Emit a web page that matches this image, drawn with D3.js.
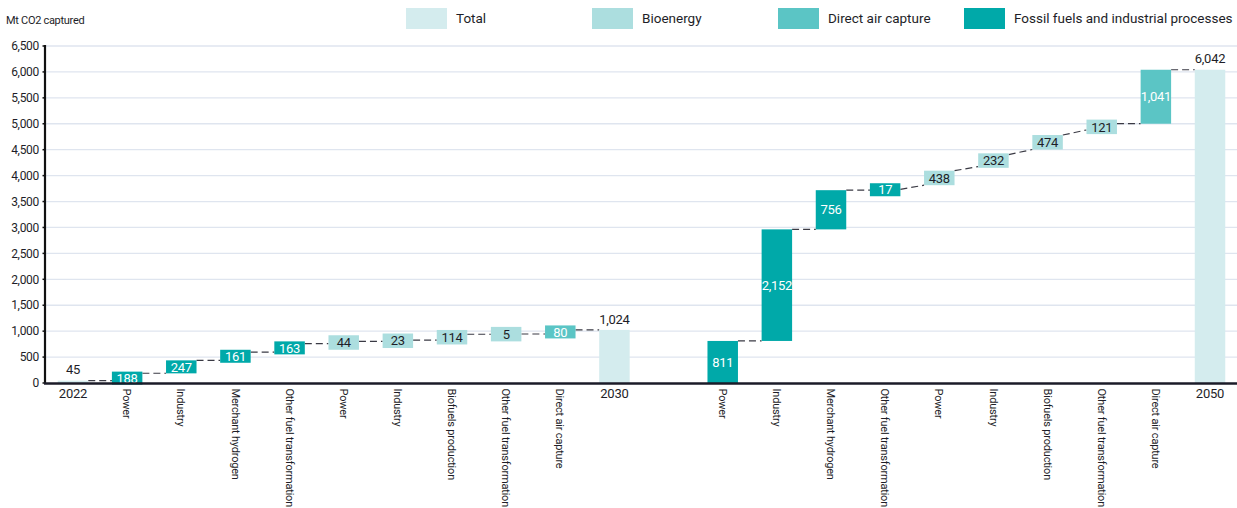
<!DOCTYPE html>
<html>
<head>
<meta charset="utf-8">
<script src="https://cdn.jsdelivr.net/npm/d3@7"></script>
<style>
  html, body { margin: 0; padding: 0; background: #fff; }
  svg { display: block; font-family: Roboto, "Liberation Sans", sans-serif; }
</style>
</head>
<body>
<svg id="chart" width="1237" height="508"></svg>
<script>
// ---- Data ----
const categories = ["2022","Power","Industry","Merchant hydrogen","Other fuel transformation","Power","Industry","Biofuels production","Other fuel transformation","Direct air capture","2030","","Power","Industry","Merchant hydrogen","Other fuel transformation","Power","Industry","Biofuels production","Other fuel transformation","Direct air capture","2050"];
const values = [45,188,247,161,163,44,23,114,5,80,1024,null,811,2152,756,17,438,232,474,121,1041,6042];
const types = ["Total","Fossil","Fossil","Fossil","Fossil","Bio","Bio","Bio","Bio","DAC","Total",null,"Fossil","Fossil","Fossil","Fossil","Bio","Bio","Bio","Bio","DAC","Total"];
const legendLabels = ["Total","Bioenergy","Direct air capture","Fossil fuels and industrial processes"];
const legendTypes = ["Total","Bio","DAC","Fossil"];
const yTicks = [0,500,1000,1500,2000,2500,3000,3500,4000,4500,5000,5500,6000,6500];
const yTitle = "Mt CO2 captured";

const colors = {Total:"#d4ecee", Bio:"#acdedf", DAC:"#5bc5c5", Fossil:"#00a9a9"};
const svg = d3.select("#chart");

const keys = categories.map((c,i)=>"k"+i);
const x = d3.scaleBand().domain(keys).range([46,1237]).paddingInner(0.437).paddingOuter(0.217);
const y = d3.scaleLinear().domain([0,6500]).range([383,46]);
const fmt = d3.format(",");

// compute waterfall geometry
const items = [];
let cum = 0;
values.forEach((v,i)=>{
  if (v === null) { items.push(null); return; }
  const t = types[i];
  let it = {i, v, t, key: keys[i], label: categories[i]};
  if (t === "Total") {
    it.start = 0; it.end = v;
    it.top = y(v); it.bot = y(0);
    cum = 0;
  } else {
    it.start = cum; it.end = cum + v; cum = it.end;
    const mid = y((it.start+it.end)/2);
    const prop = y(it.start) - y(it.end);
    const h = t === "Bio" ? 14.5 : Math.max(prop, 13);
    it.top = mid - h/2; it.bot = mid + h/2;
  }
  items.push(it);
});

// gridlines
svg.append("g").selectAll("line").data(yTicks.filter(d=>d>0)).join("line")
  .attr("x1",46).attr("x2",1237)
  .attr("y1",d=>y(d)).attr("y2",d=>y(d))
  .attr("stroke","#dfe5ef").attr("stroke-width",1.3);

// connectors
const clamp = (v,a,b)=>Math.max(a,Math.min(b,v));
const conns = [];
for (let i=0;i<items.length-1;i++){
  const a = items[i], b = items[i+1];
  if (!a || !b) continue;
  const yc = y(a.end);
  conns.push({x1: x(a.key)+x.bandwidth(), x2: x(b.key),
    y1: clamp(yc, a.top, a.bot), y2: clamp(yc, b.top, b.bot)});
}
svg.append("g").selectAll("line").data(conns).join("line")
  .attr("x1",d=>d.x1).attr("x2",d=>d.x2).attr("y1",d=>d.y1).attr("y2",d=>d.y2)
  .attr("stroke","#3a3a44").attr("stroke-width",1.2).attr("stroke-dasharray","7,4");

// bars
const bars = items.filter(d=>d);
svg.append("g").selectAll("rect").data(bars).join("rect")
  .attr("x",d=>x(d.key)).attr("width",x.bandwidth())
  .attr("y",d=>d.top).attr("height",d=>Math.max(d.bot-d.top,1.5))
  .attr("fill",d=>colors[d.t]);

// bar labels
svg.append("g").selectAll("text").data(bars).join("text")
  .attr("x",d=>x(d.key)+x.bandwidth()/2)
  .attr("y",d=> d.t==="Total" ? d.top-11 : (d.top+d.bot)/2)
  .attr("dy","0.36em")
  .attr("text-anchor","middle")
  .attr("font-size",13)
  .attr("letter-spacing","-0.3")
  .attr("fill",d=> (d.t==="Fossil"||d.t==="DAC") ? "#ffffff" : "#1e1e28")
  .text(d=>fmt(d.v));

// y axis
const yAxis = svg.append("g");
yAxis.append("line").attr("x1",45).attr("x2",45).attr("y1",y(6500)-1).attr("y2",y(0))
  .attr("stroke","#111").attr("stroke-width",2.2);
yAxis.selectAll("line.tick").data(yTicks).join("line").attr("class","tick")
  .attr("x1",42.5).attr("x2",45).attr("y1",d=>y(d)).attr("y2",d=>y(d))
  .attr("stroke","#111").attr("stroke-width",1.5);
yAxis.selectAll("text").data(yTicks).join("text")
  .attr("x",39).attr("y",d=>y(d)).attr("dy","0.35em")
  .attr("text-anchor","end").attr("font-size",12).attr("letter-spacing","-0.3")
  .attr("fill","#1e1e28").text(d=>fmt(d));

// x axis line
svg.append("line").attr("x1",44).attr("x2",1237).attr("y1",383.5).attr("y2",383.5)
  .attr("stroke","#1b1b28").attr("stroke-width",2.5);

// category labels
const cats = categories.map((c,i)=>({c, i, key: keys[i], t: types[i]})).filter(d=>d.c!=="");
svg.append("g").selectAll("text").data(cats).join("text")
  .attr("font-size",d=>d.t==="Total"?13:11)
  .attr("fill","#1e1e28")
  .attr("letter-spacing","-0.2")
  .attr("text-anchor",d=>d.t==="Total"?"middle":"start")
  .attr("dy","0.35em")
  .attr("transform",d=>{
    const cx = x(d.key)+x.bandwidth()/2;
    return d.t==="Total" ? `translate(${cx},393)` : `translate(${cx},388.5) rotate(90)`;
  })
  .text(d=>d.c);

// y title
svg.append("text").attr("x",6).attr("y",24).attr("font-size",11)
  .attr("letter-spacing","-0.3").attr("fill","#1e1e28").text(yTitle);

// legend
const lg = svg.append("g").selectAll("g").data(legendLabels).join("g")
  .attr("transform",(d,i)=>`translate(${406+i*186},8)`);
lg.append("rect").attr("width",41).attr("height",21).attr("fill",(d,i)=>colors[legendTypes[i]]);
lg.append("text").attr("x",50).attr("y",10.5).attr("dy","0.36em")
  .attr("font-size",13.5).attr("fill","#1e1e28").text(d=>d);
</script>
</body>
</html>
